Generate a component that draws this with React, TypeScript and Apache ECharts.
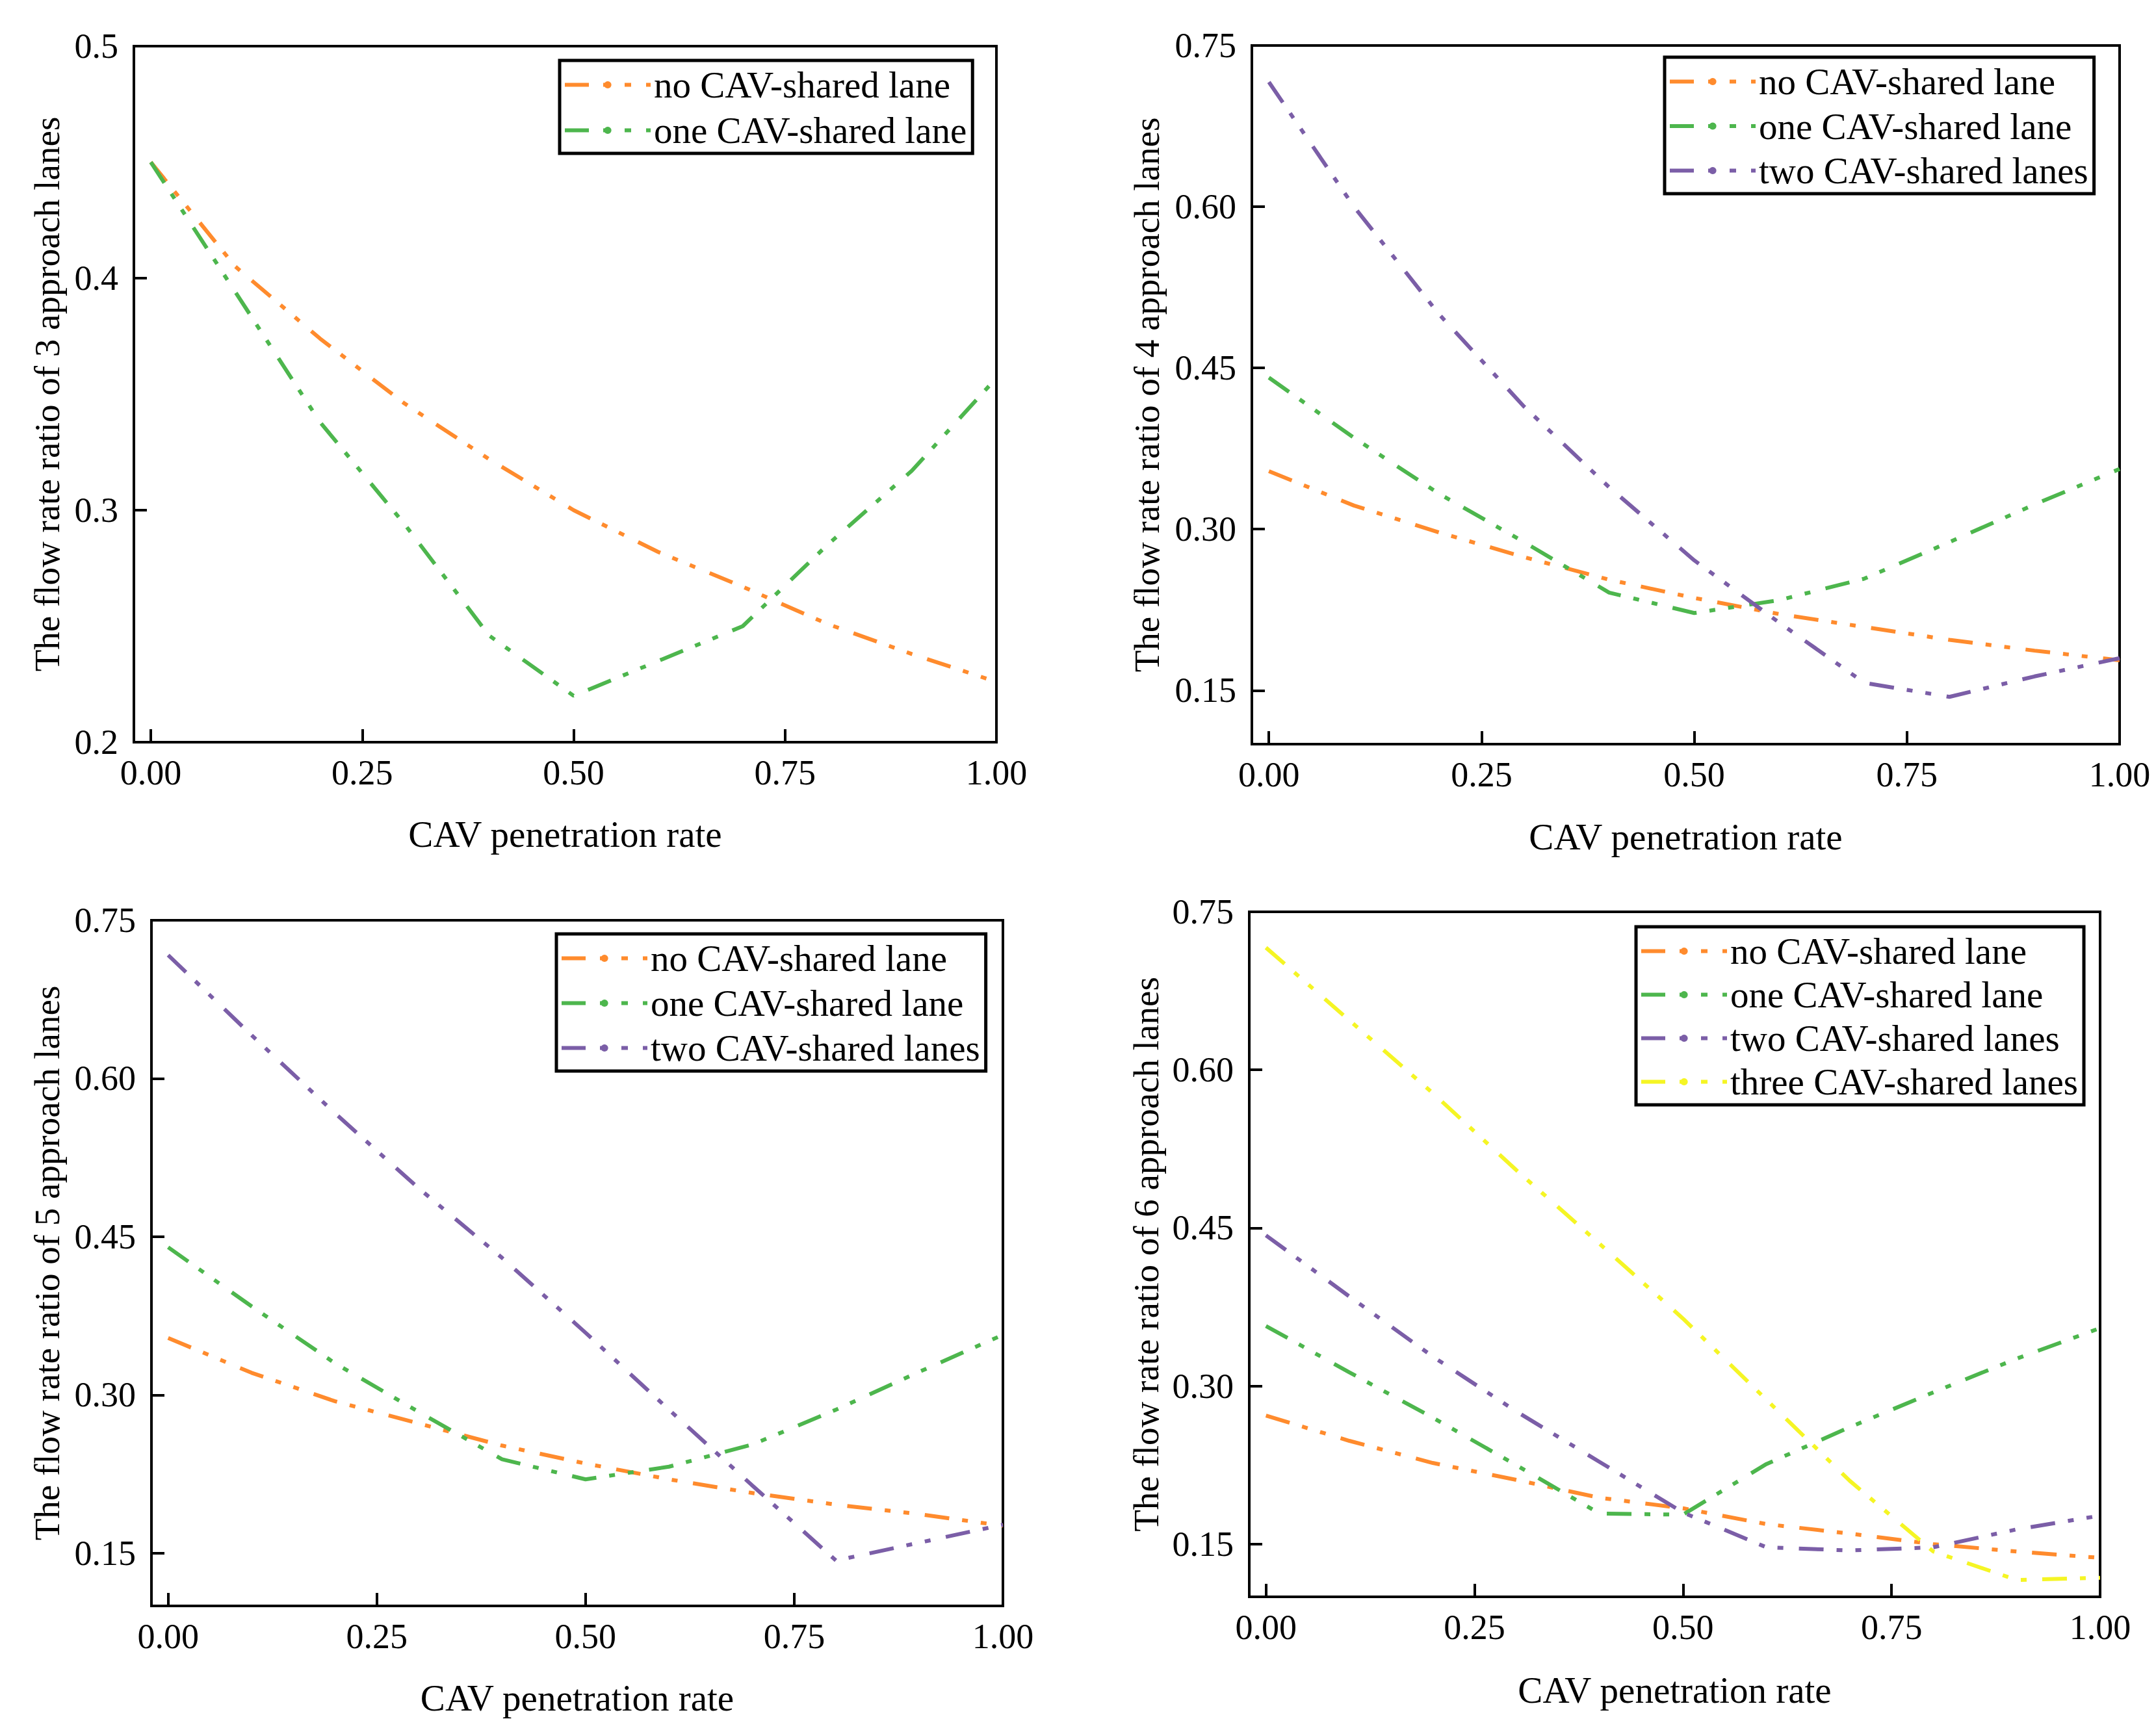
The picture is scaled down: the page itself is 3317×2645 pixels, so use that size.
import React, { useEffect, useRef } from "react";
import * as echarts from "echarts";

// ---------- data ----------
const penetration = [0, 0.1, 0.2, 0.3, 0.4, 0.5, 0.6, 0.7, 0.8, 0.9, 1.0];
const xTicks = [0, 0.25, 0.5, 0.75, 1.0];
const yTicks3 = [0.2, 0.3, 0.4, 0.5];
const yTicksOther = [0.15, 0.3, 0.45, 0.6, 0.75];

const seriesNames = [
  "no CAV-shared lane",
  "one CAV-shared lane",
  "two CAV-shared lanes",
  "three CAV-shared lanes",
];

// 3 approach lanes
const p3None = [0.45, 0.405, 0.374, 0.346, 0.322, 0.3, 0.282, 0.267, 0.251, 0.238, 0.226];
const p3One = [0.45, 0.394, 0.338, 0.294, 0.246, 0.22, 0.235, 0.25, 0.285, 0.317, 0.357];

// 4 approach lanes
const p4None = [0.354, 0.322, 0.297, 0.274, 0.253, 0.236, 0.221, 0.209, 0.197, 0.187, 0.178];
const p4One = [0.441, 0.385, 0.333, 0.288, 0.241, 0.222, 0.234, 0.254, 0.288, 0.323, 0.356];
const p4Two = [0.716, 0.6, 0.5, 0.414, 0.339, 0.271, 0.213, 0.157, 0.144, 0.163, 0.18];

// 5 approach lanes
const p5None = [0.354, 0.321, 0.294, 0.273, 0.252, 0.235, 0.22, 0.207, 0.196, 0.187, 0.176];
const p5One = [0.44, 0.384, 0.33, 0.284, 0.239, 0.22, 0.232, 0.253, 0.286, 0.322, 0.357];
const p5Two = [0.717, 0.641, 0.567, 0.496, 0.43, 0.359, 0.286, 0.214, 0.143, 0.16, 0.177];

// 6 approach lanes
const p6None = [0.272, 0.248, 0.227, 0.211, 0.194, 0.184, 0.169, 0.16, 0.15, 0.143, 0.137];
const p6One = [0.357, 0.313, 0.27, 0.225, 0.179, 0.178, 0.226, 0.261, 0.294, 0.326, 0.355];
const p6Two = [0.443, 0.385, 0.328, 0.276, 0.228, 0.18, 0.147, 0.144, 0.147, 0.164, 0.177];
const p6Three = [0.716, 0.647, 0.578, 0.505, 0.435, 0.364, 0.287, 0.21, 0.143, 0.116, 0.118];

const colors = ["#FF8B2D", "#4DB64D", "#7B5EA7", "#F5F524"];

// ---------- styling ----------
const FONT = "'Liberation Serif', 'Times New Roman', 'DejaVu Serif', serif";
const W = 3317;
const H = 2645;
const DASH = [38, 20, 9, 20, 9, 24];

const panels = [
  {
    grid: { left: 206, top: 71, width: 1327, height: 1071 },
    yName: "The flow rate ratio of 3 approach lanes",
    yMin: 0.2, yMax: 0.5, yTicks: yTicks3, digits: 1,
    yGap: 106, xGap: 113,
    legend: { left: 861, top: 93, pitch: 70 },
    data: [p3None, p3One],
  },
  {
    grid: { left: 1926, top: 70, width: 1335, height: 1075 },
    yName: "The flow rate ratio of 4 approach lanes",
    yMin: 0.1, yMax: 0.75, yTicks: yTicksOther, digits: 2,
    yGap: 134, xGap: 114,
    legend: { left: 2561, top: 88, pitch: 68.5 },
    data: [p4None, p4One, p4Two],
  },
  {
    grid: { left: 233, top: 1416, width: 1310, height: 1055 },
    yName: "The flow rate ratio of 5 approach lanes",
    yMin: 0.1, yMax: 0.75, yTicks: yTicksOther, digits: 2,
    yGap: 133, xGap: 113,
    legend: { left: 856, top: 1437, pitch: 69 },
    data: [p5None, p5One, p5Two],
  },
  {
    grid: { left: 1922, top: 1403, width: 1309, height: 1054 },
    yName: "The flow rate ratio of 6 approach lanes",
    yMin: 0.1, yMax: 0.75, yTicks: yTicksOther, digits: 2,
    yGap: 131, xGap: 115,
    legend: { left: 2517, top: 1426, pitch: 67 },
    data: [p6None, p6One, p6Two, p6Three],
  },
];

function buildOption() {
  const grids: any[] = [];
  const xAxes: any[] = [];
  const yAxes: any[] = [];
  const legends: any[] = [];
  const series: any[] = [];
  const axisLine = { show: true, onZero: false, lineStyle: { color: "#000", width: 4 } };

  panels.forEach((p, i) => {
    grids.push({
      ...p.grid,
      show: true,
      borderColor: "#000",
      borderWidth: 4,
      backgroundColor: "#fff",
      containLabel: false,
    });
    xAxes.push({
      type: "value",
      gridIndex: i,
      min: -0.02,
      max: 1.0,
      axisLine,
      axisTick: {
        show: true,
        inside: true,
        length: 20,
        customValues: xTicks,
        lineStyle: { color: "#000", width: 4 },
      },
      axisLabel: {
        customValues: xTicks,
        formatter: (v: number) => v.toFixed(2),
        fontFamily: FONT,
        fontSize: 54,
        color: "#000",
        margin: 20,
      },
      splitLine: { show: false },
      name: "CAV penetration rate",
      nameLocation: "middle",
      nameGap: p.xGap,
      nameTextStyle: { fontFamily: FONT, fontSize: 57, color: "#000" },
    });
    yAxes.push({
      type: "value",
      gridIndex: i,
      min: p.yMin,
      max: p.yMax,
      axisLine,
      axisTick: {
        show: true,
        inside: true,
        length: 20,
        customValues: p.yTicks,
        lineStyle: { color: "#000", width: 4 },
      },
      axisLabel: {
        customValues: p.yTicks,
        formatter: (v: number) => v.toFixed(p.digits),
        fontFamily: FONT,
        fontSize: 54,
        color: "#000",
        margin: 24,
      },
      splitLine: { show: false },
      name: p.yName,
      nameLocation: "middle",
      nameRotate: 90,
      nameGap: p.yGap,
      nameTextStyle: { fontFamily: FONT, fontSize: 55, color: "#000" },
    });
    const names = seriesNames.slice(0, p.data.length);
    legends.push({
      orient: "vertical",
      left: p.legend.left,
      top: p.legend.top,
      data: names,
      itemWidth: 132,
      itemHeight: 14,
      itemGap: p.legend.pitch - 57,
      itemTextGap: 7,
      padding: [9, 9, 7, 5],
      borderColor: "#000",
      borderWidth: 5,
      backgroundColor: "#fff",
      selectedMode: false,
      lineStyle: { type: [37, 22, 10, 23, 10, 23, 10, 60], width: 6 },
      textStyle: { fontFamily: FONT, fontSize: 57, lineHeight: 57, color: "#000" },
    });
    p.data.forEach((vals, k) => {
      series.push({
        type: "line",
        name: names[k],
        xAxisIndex: i,
        yAxisIndex: i,
        data: penetration.map((x, j) => [x, vals[j]]),
        symbol: "none",
        color: colors[k],
        lineStyle: { color: colors[k], width: 6, type: DASH },
        clip: true,
        z: 3,
      });
    });
  });

  return {
    animation: false,
    backgroundColor: "#fff",
    textStyle: { fontFamily: FONT },
    grid: grids,
    xAxis: xAxes,
    yAxis: yAxes,
    legend: legends,
    series,
  };
}

export default function App() {
  const ref = useRef<HTMLDivElement>(null);
  useEffect(() => {
    if (!ref.current) return;
    const chart = echarts.init(ref.current, undefined, { renderer: "svg", width: W, height: H });
    chart.setOption(buildOption() as any);
    return () => chart.dispose();
  }, []);
  return (
    <div
      ref={ref}
      style={{ position: "absolute", left: 0, top: 0, width: W, height: H, background: "#fff" }}
    />
  );
}
